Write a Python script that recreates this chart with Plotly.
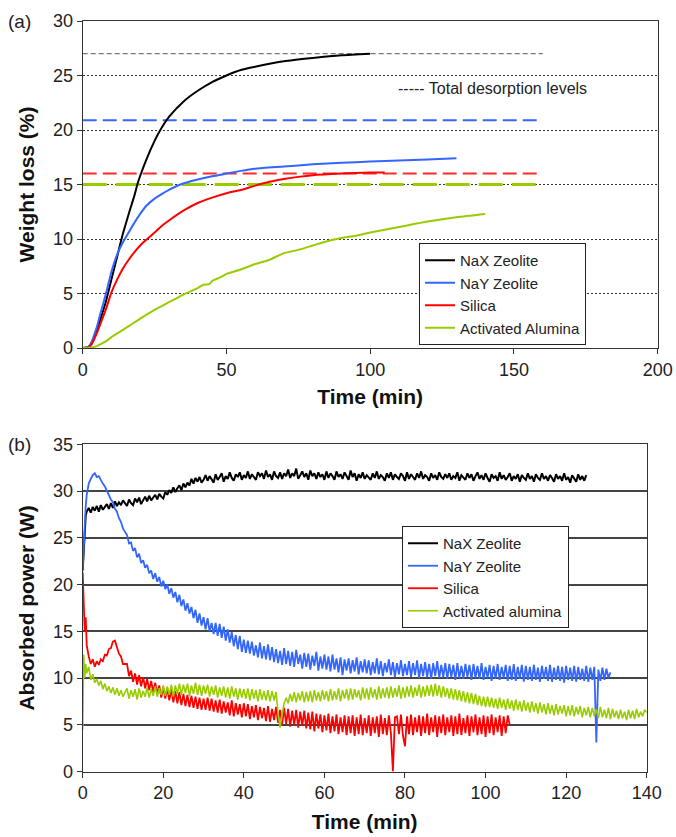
import plotly.graph_objects as go

# ---------------- (a) Weight loss vs time ----------------
nax_wl_t = [0, 2, 3, 4, 5, 6, 8, 10, 12, 13.5, 14, 16, 18, 19, 20, 22, 25, 27, 30, 35, 40, 45, 50, 55, 60, 70, 80, 90, 100]
nax_wl = [0, 0.1, 0.4, 1.0, 1.7, 2.5, 4.2, 6.3, 8.4, 10.0, 10.5, 12.3, 14.0, 15.0, 15.8, 17.2, 19.0, 20.0, 21.2, 22.6, 23.6, 24.4, 25.0, 25.5, 25.8, 26.3, 26.6, 26.85, 27.0]

nay_wl_t = [0, 2, 3, 4, 5, 6, 8, 10, 12, 14, 16, 18, 20, 22, 25, 28, 30, 34, 40, 45, 50, 55, 60, 70, 80, 90, 100, 110, 120, 130]
nay_wl = [0, 0.1, 0.5, 1.2, 2.0, 3.0, 4.9, 7.0, 8.6, 9.7, 10.6, 11.5, 12.3, 13.0, 13.7, 14.2, 14.5, 15.0, 15.45, 15.75, 16.0, 16.25, 16.45, 16.65, 16.85, 17.0, 17.1, 17.2, 17.3, 17.4]

sil_wl_t = [0, 2, 3, 4, 5, 6, 8, 10, 12, 14, 16, 18, 20, 22, 25, 28, 30, 35, 40, 45, 50, 55, 60, 65, 70, 75, 80, 90, 100, 105]
sil_wl = [0, 0.05, 0.3, 0.8, 1.4, 2.1, 3.5, 5.1, 6.3, 7.3, 8.1, 8.8, 9.4, 9.9, 10.6, 11.3, 11.7, 12.6, 13.3, 13.8, 14.2, 14.5, 14.9, 15.25, 15.5, 15.7, 15.85, 16.0, 16.1, 16.1]

alu_wl_t = [0, 3, 5, 8, 10, 13, 16, 20, 25, 30, 35, 40, 42, 44, 45, 48, 50, 55, 60, 65, 70, 75, 80, 85, 90, 95, 100, 110, 120, 130, 140]
alu_wl = [0, 0.05, 0.2, 0.6, 1.0, 1.5, 2.0, 2.7, 3.5, 4.2, 4.9, 5.5, 5.8, 5.85, 6.15, 6.5, 6.8, 7.2, 7.7, 8.1, 8.7, 9.0, 9.4, 9.8, 10.1, 10.3, 10.6, 11.1, 11.6, 12.0, 12.3]

# total desorption levels (%), drawn from t=0 to t=160
level_values = [27, 20.9, 16, 15]
level_end = 160

# ---------------- (b) Absorbed power vs time ----------------
# early samples at these times, then every 0.5 min from 11 min on
t_early = [0, 0.25, 0.5, 0.75, 1, 1.5, 2, 2.5, 3, 3.5, 4, 4.5, 5, 5.5, 6, 6.5, 7, 7.5, 8, 8.5, 9, 9.5, 10]
late_start, late_step = 11, 0.5

nax_p_early = [21.5, 24.0, 26.2, 27.4, 27.8, 28.2, 27.7, 28.3, 27.9, 28.4, 27.8, 28.5, 28.0, 28.3, 28.6, 28.1, 28.7, 28.2, 28.9, 28.4, 28.8, 28.5, 29.0]
nax_p_late = [
    28.4, 29.1, 28.7, 28.5, 29.2, 28.8, 29.3, 28.6, 29.0, 29.4,
    28.9, 29.5, 29.0, 29.3, 29.6, 29.1, 29.7, 29.4, 29.2, 29.9,
    29.6, 30.1, 29.8, 30.4, 29.9, 30.3, 30.6, 30.1, 30.8, 30.4,
    30.9, 30.6, 31.3, 30.8, 31.4, 31.0, 31.5, 30.9, 31.2, 31.7,
    31.1, 31.6, 31.3, 30.9, 31.8, 31.2, 31.5, 31.9, 31.0, 31.6,
    31.3, 32.0, 31.4, 31.1, 31.8, 31.5, 32.0, 31.2, 31.7, 31.4,
    32.1, 31.3, 31.8, 31.5, 31.2, 32.0, 31.6, 31.9, 31.3, 32.2,
    31.5, 31.8, 31.2, 32.1, 31.6, 31.4, 32.0, 31.3, 31.9, 31.6,
    32.3, 31.4, 31.9, 31.6, 32.4, 31.3, 31.8, 32.1, 31.5, 31.9,
    31.2, 32.2, 31.6, 31.9, 31.3, 32.0, 31.5, 31.8, 31.2, 32.1,
    31.4, 31.9, 31.6, 31.2, 32.1, 31.5, 31.8, 31.3, 32.0, 31.6,
    31.2, 32.2, 31.5, 31.9, 31.1, 31.8, 31.4, 32.0, 31.3, 31.7,
    31.5, 31.2, 31.9, 31.4, 32.1, 31.3, 31.7, 31.5, 31.1, 31.9,
    31.4, 32.0, 31.2, 31.8, 31.5, 31.3, 31.9, 31.6, 31.1, 32.0,
    31.3, 31.8, 31.5, 31.2, 31.9, 31.4, 32.1, 31.3, 31.7, 31.5,
    31.1, 31.9, 31.4, 31.7, 31.2, 32.0, 31.5, 31.3, 31.8, 31.4,
    31.9, 31.2, 31.6, 31.4, 32.0, 31.1, 31.7, 31.5, 31.2, 31.9,
    31.4, 31.8, 31.1, 31.6, 32.0, 31.3, 31.7, 31.2, 31.9, 31.4,
    31.0, 31.8, 31.4, 31.6, 31.1, 32.0, 31.3, 31.7, 31.2, 31.5,
    31.9, 31.1, 31.6, 31.3, 31.8, 31.0, 31.7, 31.4, 31.2, 31.9,
    31.3, 31.6, 31.0, 31.8, 31.4, 31.2, 31.9, 31.3, 31.6, 31.1,
    31.7, 31.4, 31.0, 31.8, 31.3, 31.6, 31.1, 31.9, 31.2, 31.5,
    30.9, 31.7, 31.3, 31.0, 31.8, 31.2, 31.6, 31.1, 31.7,
]

nay_p_early = [21.5, 24.0, 26.6, 28.4, 29.6, 30.8, 31.3, 31.7, 31.9, 31.5, 31.6, 31.1, 30.8, 30.5, 30.0, 29.7, 29.1, 28.8, 28.1, 27.8, 27.1, 26.7, 26.0]
nay_p_late = [
    25.3, 24.4, 24.5, 23.6, 23.9, 22.9, 23.3, 22.3, 22.6, 21.8,
    22.1, 21.2, 21.5, 20.6, 21.2, 20.3, 20.8, 19.8, 20.4, 19.5,
    20.0, 19.0, 19.6, 18.6, 19.2, 18.1, 18.9, 17.7, 18.4, 17.2,
    18.0, 16.9, 17.6, 16.4, 17.3, 15.9, 16.9, 15.6, 16.5, 15.2,
    16.4, 15.0, 15.9, 14.7, 15.9, 14.5, 15.8, 14.3, 15.5, 14.0,
    15.2, 13.8, 14.9, 13.4, 14.6, 13.1, 14.5, 12.8, 14.1, 12.7,
    14.0, 12.6, 13.9, 12.4, 13.5, 12.2, 13.8, 12.1, 13.4, 12.0,
    13.6, 11.9, 13.3, 11.7, 13.1, 11.6, 12.9, 11.4, 13.2, 11.5,
    12.9, 11.3, 12.8, 11.2, 13.0, 11.5, 12.5, 11.0, 12.7, 11.2,
    12.6, 10.9, 12.4, 11.3, 12.8, 10.8, 12.3, 11.0, 12.5, 10.9,
    12.3, 10.7, 12.5, 10.9, 12.1, 10.6, 12.2, 10.3, 12.0, 10.8,
    12.1, 10.5, 11.9, 10.7, 12.2, 10.4, 11.8, 10.6, 12.0, 10.5,
    11.9, 10.3, 11.7, 10.5, 12.1, 10.4, 11.8, 10.2, 11.6, 10.6,
    12.0, 10.3, 11.7, 10.1, 11.6, 10.4, 11.9, 10.2, 11.5, 10.3,
    11.8, 10.1, 11.6, 10.3, 11.9, 10.0, 11.5, 10.2, 11.7, 10.1,
    11.5, 9.9, 11.6, 10.2, 11.8, 10.0, 11.4, 10.1, 11.6, 9.9,
    11.5, 10.1, 11.4, 9.8, 11.6, 10.0, 11.3, 9.9, 11.5, 10.1,
    11.4, 9.8, 11.5, 10.0, 11.3, 9.9, 11.6, 9.8, 11.2, 10.0,
    11.4, 9.7, 11.3, 9.9, 11.5, 9.8, 11.2, 10.0, 11.4, 9.7,
    11.3, 9.8, 11.5, 9.7, 11.2, 9.9, 11.4, 9.6, 11.3, 9.8,
    11.2, 9.7, 11.4, 9.8, 11.1, 9.6, 11.3, 9.9, 11.2, 9.7,
    11.4, 9.6, 11.1, 9.8, 11.3, 9.7, 11.2, 9.5, 11.3, 9.8,
    11.1, 9.7, 11.3, 9.6, 11.2, 9.8, 11.0, 9.7, 11.3, 9.6,
    11.1, 9.8, 11.2, 3.1, 10.9, 9.7, 11.1, 9.8, 11.0, 10.0, 10.6,
]

sil_p_early = [21.3, 18.5, 15.0, 16.5, 13.5, 12.3, 11.5, 12.0, 11.2, 11.8, 11.4, 12.0, 11.8, 12.5, 12.4, 13.1, 13.2, 13.9, 14.0, 13.3, 12.6, 12.3, 11.5]
sil_p_late = [
    11.5, 10.2, 10.8, 9.6, 10.5, 9.3, 10.3, 9.1, 10.1, 8.9,
    9.9, 8.7, 9.7, 8.5, 9.5, 8.3, 9.2, 7.9, 9.0, 7.8,
    8.9, 7.6, 8.8, 7.4, 8.6, 7.3, 8.5, 7.1, 8.3, 7.0,
    8.2, 6.9, 8.1, 6.8, 8.0, 6.7, 7.9, 6.6, 7.8, 6.6,
    7.9, 6.5, 7.8, 6.4, 7.6, 6.3, 7.7, 6.2, 7.5, 6.3,
    7.4, 6.0, 7.6, 5.9, 7.3, 6.1, 7.2, 5.8, 7.3, 5.9,
    7.2, 5.6, 7.0, 5.8, 7.1, 5.5, 6.9, 5.7, 6.8, 5.4,
    7.0, 5.3, 6.7, 5.5, 6.9, 5.2, 6.6, 5.0, 6.8, 5.1,
    6.7, 4.8, 6.5, 5.0, 6.6, 4.7, 6.4, 4.9, 6.5, 4.6,
    6.3, 4.5, 6.4, 4.3, 6.2, 4.6, 6.1, 4.2, 6.0, 4.4,
    6.2, 4.1, 5.9, 4.3, 6.1, 4.0, 5.8, 4.2, 6.0, 3.9,
    5.9, 4.1, 6.0, 3.8, 5.8, 4.0, 6.1, 3.9, 5.7, 4.1,
    6.0, 3.8, 5.8, 4.1, 5.9, 3.7, 6.1, 4.0, 5.7, 3.9,
    6.0, 4.1, 0.0, 5.8, 5.9, 4.0, 6.1, 3.8, 2.7, 5.9,
    4.0, 6.1, 3.9, 5.8, 4.2, 6.0, 3.8, 5.9, 4.1, 6.2,
    3.9, 5.8, 4.2, 6.0, 3.7, 5.9, 4.1, 6.1, 3.9, 5.8,
    4.2, 6.0, 3.8, 5.9, 4.0, 6.2, 3.9, 5.7, 4.1, 6.0,
    3.8, 5.9, 4.2, 6.1, 3.9, 5.8, 4.0, 6.0, 3.7, 5.9,
    4.1, 6.1, 3.9, 5.8, 4.2, 6.0, 3.8, 5.9, 4.1, 6.0,
    5.0,
]

alu_p_early = [4.5, 12.5, 10.0, 11.5, 10.5, 11.2, 9.8, 10.4, 9.5, 9.9, 9.2, 9.7, 8.8, 9.4, 8.6, 9.1, 8.4, 9.0, 8.2, 8.9, 8.1, 8.7, 8.0]
alu_p_late = [
    8.9, 7.8, 8.7, 8.0, 8.8, 7.7, 8.9, 7.9, 8.6, 8.0,
    9.0, 7.9, 8.8, 8.1, 9.1, 8.0, 8.9, 8.2, 9.2, 8.1,
    9.1, 8.2, 9.3, 8.0, 9.2, 8.3, 9.4, 8.2, 9.3, 8.4,
    9.4, 8.1, 9.2, 8.3, 9.5, 8.2, 9.3, 8.1, 9.2, 8.3,
    9.3, 8.0, 9.1, 8.2, 9.2, 7.9, 9.0, 8.1, 9.1, 7.9,
    9.0, 7.8, 9.1, 8.0, 8.9, 7.7, 8.9, 7.9, 8.8, 7.8,
    8.9, 7.6, 8.8, 7.8, 8.7, 7.5, 8.8, 7.7, 8.6, 7.6,
    8.7, 7.5, 8.6, 7.6, 8.5, 6.2, 4.7, 6.1, 7.3, 7.9,
    7.3, 8.3, 7.5, 8.5, 7.4, 8.4, 7.6, 8.6, 7.4, 8.5,
    7.5, 8.6, 7.4, 8.7, 7.6, 8.5, 7.5, 8.7, 7.7, 8.6,
    7.5, 8.8, 7.6, 8.6, 7.7, 8.9, 7.5, 8.7, 7.8, 8.8,
    7.6, 8.9, 7.7, 8.8, 7.9, 8.7, 7.6, 9.0, 7.8, 8.9,
    7.7, 9.0, 7.9, 8.8, 7.7, 9.1, 7.8, 8.9, 7.9, 9.0,
    7.8, 9.1, 7.9, 8.9, 8.0, 9.2, 7.8, 9.0, 7.9, 9.1,
    8.0, 9.2, 7.9, 9.0, 8.1, 9.3, 7.9, 9.1, 8.0, 9.2,
    8.1, 9.3, 8.0, 9.4, 8.1, 9.2, 7.9, 9.1, 8.0, 8.9,
    7.8, 8.9, 7.7, 8.8, 7.6, 8.7, 7.5, 8.6, 7.4, 8.5,
    7.3, 8.4, 7.2, 8.3, 7.1, 8.1, 7.0, 8.0, 6.9, 8.0,
    6.9, 7.9, 6.8, 7.8, 6.7, 7.9, 6.8, 7.7, 6.6, 7.8,
    6.7, 7.6, 6.5, 7.7, 6.6, 7.5, 6.4, 7.6, 6.5, 7.4,
    6.3, 7.5, 6.4, 7.3, 6.2, 7.4, 6.3, 7.2, 6.1, 7.3,
    6.2, 7.1, 6.0, 7.2, 6.1, 7.0, 6.2, 7.1, 5.9, 7.0,
    6.0, 7.1, 5.9, 6.9, 6.1, 7.0, 5.8, 6.8, 6.0, 6.9,
    5.8, 6.8, 5.9, 6.7, 5.7, 6.9, 5.8, 6.6, 5.7, 6.8,
    5.6, 6.7, 5.8, 6.5, 5.6, 6.6, 5.7, 6.4, 5.5, 6.6,
    5.7, 6.5, 5.6, 6.7, 5.8, 6.4, 5.9, 6.6, 6.3,
]

names_a = ["NaX Zeolite", "NaY Zeolite", "Silica", "Activated Alumina"]
names_b = ["NaX Zeolite", "NaY Zeolite", "Silica", "Activated alumina"]
colors = ["#000000", "#3366ff", "#ff0000", "#99cc00"]
level_colors = ["#555555", "#3366ff", "#ff2a2a", "#99cc00"]
level_dash = ["5px,3px", "14px,6px", "14px,6px", "24px,9px"]
level_width = [1, 2, 2, 3]


def full_t(late):
    return t_early + [late_start + late_step * i for i in range(len(late))]


FONT = "Liberation Sans, Arial, sans-serif"
fig = go.Figure()

# levels first (underneath)
for v, c, d, w in zip(level_values, level_colors, level_dash, level_width):
    fig.add_trace(go.Scatter(x=[0, level_end], y=[v, v], mode="lines",
                             line=dict(color=c, dash=d, width=w),
                             showlegend=False, hoverinfo="skip",
                             xaxis="x", yaxis="y"))

wl_sets = [(nax_wl_t, nax_wl), (nay_wl_t, nay_wl), (sil_wl_t, sil_wl), (alu_wl_t, alu_wl)]
for i, ((tt, yy), nm, c) in enumerate(zip(wl_sets, names_a, colors)):
    fig.add_trace(go.Scatter(x=tt, y=yy, mode="lines", name=nm,
                             line=dict(color=c, width=2, shape="spline", smoothing=0.6),
                             legend="legend", legendgroup=f"a{i}",
                             xaxis="x", yaxis="y"))

p_sets = [(nax_p_early, nax_p_late), (nay_p_early, nay_p_late),
          (sil_p_early, sil_p_late), (alu_p_early, alu_p_late)]
p_widths = [2.0, 1.8, 1.8, 1.6]
for i, ((e, l), nm, c, w) in enumerate(zip(p_sets, names_b, colors, p_widths)):
    fig.add_trace(go.Scatter(x=full_t(l), y=e + l, mode="lines", name=nm,
                             line=dict(color=c, width=w),
                             legend="legend2", legendgroup=f"b{i}",
                             xaxis="x2", yaxis="y2"))

W, H = 676, 837
def px_x(p):
    return p / W
def px_y(p):
    return 1 - p / H

axis_common = dict(showline=True, linecolor="#333333", linewidth=1.2, mirror=True,
                   ticks="outside", ticklen=5, tickcolor="#333333",
                   tickfont=dict(family=FONT, size=18, color="#222222"),
                   zeroline=False, automargin=False)
TFONT = dict(family=FONT, size=21, color="#111111")

fig.update_layout(
    width=W, height=H, margin=dict(l=0, r=0, t=0, b=0, autoexpand=False),
    paper_bgcolor="white", plot_bgcolor="white",
    font=dict(family=FONT, color="#222222"),
    xaxis=dict(domain=[px_x(82.7), px_x(657.7)], range=[0, 200], dtick=50,
               showgrid=False, anchor="y",
               title=dict(text="<b>Time (min)</b>", font=TFONT, standoff=10),
               **axis_common),
    yaxis=dict(domain=[px_y(348), px_y(21)], range=[0, 30], dtick=5,
               showgrid=True, gridcolor="#333333", gridwidth=1, griddash="2px,2px",
               anchor="x",
               title=dict(text="<b>Weight loss (%)</b>", font=TFONT, standoff=12),
               **axis_common),
    xaxis2=dict(domain=[px_x(82.7), px_x(646.7)], range=[0, 140], dtick=20,
                showgrid=False, anchor="y2",
                title=dict(text="<b>Time (min)</b>", font=TFONT, standoff=12),
                **axis_common),
    yaxis2=dict(domain=[px_y(771.5), px_y(444.3)], range=[0, 35], dtick=5,
                showgrid=True, gridcolor="#444444", gridwidth=1.5,
                anchor="x2",
                title=dict(text="<b>Absorbed power (W)</b>", font=TFONT, standoff=12),
                **axis_common),
    legend=dict(x=px_x(419), y=px_y(243), xanchor="left", yanchor="top",
                bgcolor="white", bordercolor="#222222", borderwidth=1,
                font=dict(family=FONT, size=15, color="#222222"),
                traceorder="grouped", tracegroupgap=0, itemwidth=30),
    legend2=dict(x=px_x(402), y=px_y(526), xanchor="left", yanchor="top",
                 bgcolor="white", bordercolor="#222222", borderwidth=1,
                 font=dict(family=FONT, size=15, color="#222222"),
                 traceorder="grouped", tracegroupgap=0, itemwidth=30),
    annotations=[
        dict(text="(a)", x=px_x(6), y=px_y(21), xref="paper", yref="paper",
             xanchor="left", yanchor="middle", showarrow=False,
             font=dict(family=FONT, size=19, color="#222222")),
        dict(text="(b)", x=px_x(6), y=px_y(444), xref="paper", yref="paper",
             xanchor="left", yanchor="middle", showarrow=False,
             font=dict(family=FONT, size=19, color="#222222")),
        dict(text="----- Total desorption levels", x=px_x(396), y=px_y(88),
             xref="paper", yref="paper", xanchor="left", yanchor="middle",
             showarrow=False, font=dict(family=FONT, size=16, color="#222222")),
    ],
)

fig.write_html("out.html")
